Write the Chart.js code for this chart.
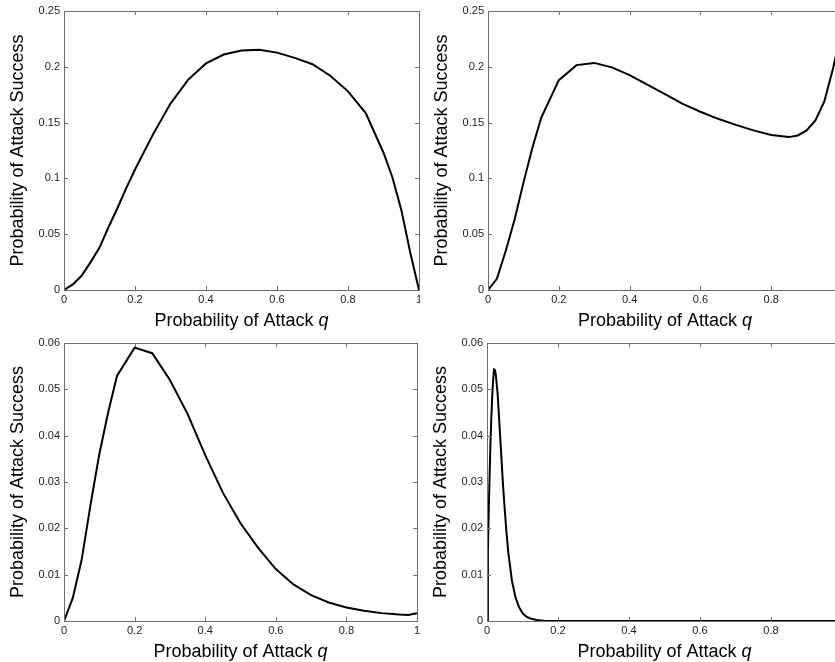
<!DOCTYPE html>
<html>
<head>
<meta charset="utf-8">
<script src="https://cdn.jsdelivr.net/npm/chart.js@4/dist/chart.umd.min.js"></script>
<style>
  html, body { margin: 0; padding: 0; width: 835px; height: 662px; overflow: hidden; background: #fff; }
  canvas { position: absolute; }
</style>
</head>
<body>
<canvas id="plotA" width="420" height="331" style="left:0;top:0"></canvas>
<canvas id="plotB" width="425" height="331" style="left:420px;top:0"></canvas>
<canvas id="plotC" width="420" height="330" style="left:0;top:332px"></canvas>
<canvas id="plotD" width="425" height="330" style="left:420px;top:332px"></canvas>
<script>
// Data (q = probability of attack)
const qA = [0, 0.025, 0.05, 0.075, 0.1, 0.125, 0.15, 0.175, 0.2, 0.25, 0.3, 0.35, 0.4, 0.45, 0.5, 0.55, 0.6, 0.65, 0.7, 0.75, 0.8, 0.85, 0.9, 0.925, 0.95, 0.975, 1];
const pA = [0, 0.005, 0.013, 0.025, 0.038, 0.056, 0.073, 0.091, 0.108, 0.139, 0.167, 0.1885, 0.203, 0.211, 0.2145, 0.2153, 0.2127, 0.208, 0.2023, 0.192, 0.178, 0.1585, 0.123, 0.101, 0.072, 0.034, 0];

const qB = [0, 0.025, 0.05, 0.075, 0.1, 0.125, 0.15, 0.2, 0.25, 0.3, 0.35, 0.4, 0.45, 0.5, 0.55, 0.6, 0.65, 0.7, 0.75, 0.8, 0.85, 0.875, 0.9, 0.925, 0.95, 0.975, 1];
const pB = [0, 0.010, 0.035, 0.063, 0.096, 0.127, 0.154, 0.188, 0.2015, 0.2035, 0.1995, 0.1925, 0.184, 0.1755, 0.1667, 0.1597, 0.1534, 0.148, 0.143, 0.1389, 0.137, 0.1385, 0.143, 0.152, 0.169, 0.199, 0.235];

const qC = [0, 0.025, 0.05, 0.075, 0.1, 0.125, 0.15, 0.2, 0.25, 0.3, 0.35, 0.4, 0.45, 0.5, 0.55, 0.6, 0.65, 0.7, 0.75, 0.8, 0.85, 0.9, 0.95, 0.975, 1];
const pC = [0, 0.005, 0.0132, 0.025, 0.036, 0.045, 0.0529, 0.059, 0.0578, 0.052, 0.0447, 0.0358, 0.0277, 0.0211, 0.0158, 0.0112, 0.0079, 0.0056, 0.004, 0.0029, 0.0022, 0.0017, 0.0014, 0.0013, 0.0017];

const qD = [0, 0.0025, 0.005, 0.0075, 0.01, 0.0125, 0.015, 0.0175, 0.02, 0.0225, 0.025, 0.03, 0.035, 0.04, 0.045, 0.05, 0.055, 0.06, 0.07, 0.08, 0.09, 0.1, 0.11, 0.12, 0.14, 0.16, 0.2, 0.4, 0.6, 0.8, 1];
const pD = [0, 0.015, 0.024, 0.032, 0.039, 0.0445, 0.049, 0.0523, 0.0543, 0.0542, 0.053, 0.049, 0.0425, 0.036, 0.0295, 0.024, 0.019, 0.0148, 0.0088, 0.0052, 0.003, 0.0017, 0.001, 0.0006, 0.0002, 0.00005, 0, 0, 0, 0, 0];

const xTitle = 'Probability of Attack ';
const xTitleVar = 'q';
const yTitle = 'Probability of Attack Success';

const FONT = '"Liberation Sans", Arial, Helvetica, sans-serif';

// box, inward tick marks and axis titles, MATLAB style
const framePlugin = {
    id: 'frame',
    afterDraw(chart) {
        const { ctx, chartArea: a, scales: { x, y } } = chart;
        const tl = 4;
        ctx.save();
        ctx.strokeStyle = '#6e6e6e';
        ctx.lineWidth = 1;
        ctx.strokeRect(a.left + 0.5, a.top + 0.5, a.right - a.left, a.bottom - a.top);
        ctx.beginPath();
        x.ticks.forEach(t => {
            const px = Math.round(x.getPixelForValue(t.value)) + 0.5;
            ctx.moveTo(px, a.bottom); ctx.lineTo(px, a.bottom - tl);
            ctx.moveTo(px, a.top); ctx.lineTo(px, a.top + tl);
        });
        y.ticks.forEach(t => {
            const py = Math.round(y.getPixelForValue(t.value)) + 0.5;
            ctx.moveTo(a.left, py); ctx.lineTo(a.left + tl, py);
            ctx.moveTo(a.right, py); ctx.lineTo(a.right - tl, py);
        });
        ctx.stroke();

        ctx.fillStyle = '#000';
        ctx.textBaseline = 'alphabetic';
        // x title with italic q
        ctx.font = '18px ' + FONT;
        const w1 = ctx.measureText(xTitle).width;
        ctx.font = 'italic 18px ' + FONT;
        const w2 = ctx.measureText(xTitleVar).width;
        const start = (a.left + a.right) / 2 - (w1 + w2) / 2;
        const base = a.bottom + 36;
        ctx.textAlign = 'left';
        ctx.font = '18px ' + FONT;
        ctx.fillText(xTitle, start, base);
        ctx.font = 'italic 18px ' + FONT;
        ctx.fillText(xTitleVar, start + w1, base);
        // y title
        ctx.font = '18px ' + FONT;
        ctx.translate(a.left - 41, (a.top + a.bottom) / 2);
        ctx.rotate(-Math.PI / 2);
        ctx.textAlign = 'center';
        ctx.fillText(yTitle, 0, 0);
        ctx.restore();
    }
};

function makePlot(id, qs, ps, yMax, yStep, yWidth, pad) {
    const points = qs.map((q, i) => ({ x: q, y: ps[i] }));
    return new Chart(document.getElementById(id), {
        type: 'line',
        data: {
            datasets: [{
                data: points,
                borderColor: '#000',
                borderWidth: 2,
                pointRadius: 0,
                tension: 0,
                fill: false
            }]
        },
        options: {
            responsive: false,
            animation: false,
            devicePixelRatio: 1,
            layout: { padding: pad },
            plugins: { legend: { display: false }, tooltip: { enabled: false } },
            scales: {
                x: {
                    type: 'linear',
                    min: 0,
                    max: 1,
                    grid: { display: false, drawTicks: false },
                    border: { display: false },
                    ticks: {
                        stepSize: 0.2,
                        padding: 3,
                        maxRotation: 0,
                        color: '#222',
                        font: { family: FONT, size: 11 },
                        callback: v => String(+v.toFixed(2))
                    },
                    afterFit: s => { s.height = 41; s.paddingLeft = 0; s.paddingRight = 0; }
                },
                y: {
                    min: 0,
                    max: yMax,
                    grid: { display: false, drawTicks: false },
                    border: { display: false },
                    ticks: {
                        stepSize: yStep,
                        padding: 4,
                        color: '#222',
                        font: { family: FONT, size: 11 },
                        callback: v => String(+v.toFixed(3))
                    },
                    afterFit: s => { s.width = yWidth; s.paddingTop = 0; s.paddingBottom = 0; }
                }
            }
        },
        plugins: [framePlugin]
    });
}

makePlot('plotA', qA, pA, 0.25, 0.05, 64, { top: 11, right: 1, left: 0, bottom: 0 });
makePlot('plotB', qB, pB, 0.25, 0.05, 68, { top: 11, right: 3, left: 0, bottom: 0 });
makePlot('plotC', qC, pC, 0.06, 0.01, 64, { top: 11, right: 3, left: 0, bottom: 0 });
makePlot('plotD', qD, pD, 0.06, 0.01, 67, { top: 11, right: 3, left: 0, bottom: 0 });
</script>
</body>
</html>
